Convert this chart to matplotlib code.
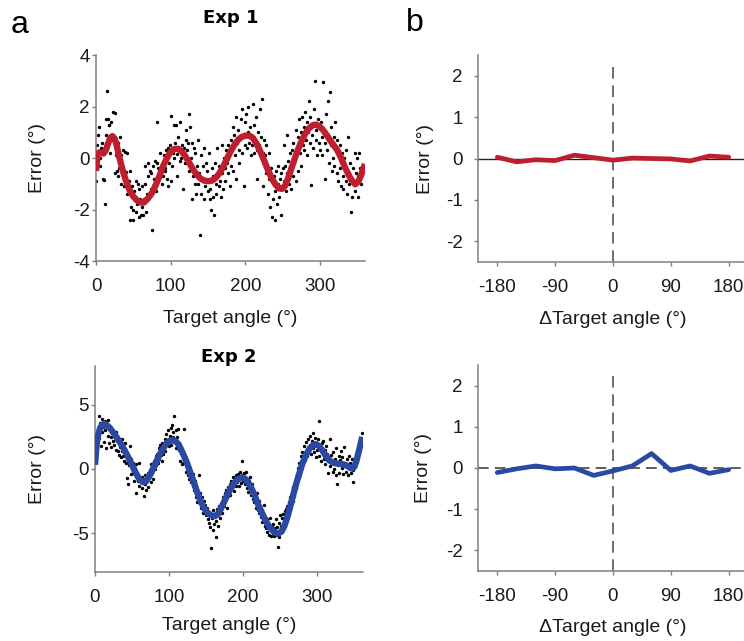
import matplotlib
matplotlib.use("Agg")
import matplotlib.pyplot as plt

plt.rcParams['font.family'] = ['Liberation Sans', 'DejaVu Sans']
plt.rcParams['axes.unicode_minus'] = False

# ---------------- Exp 1: single-trial errors and smoothed bias ----------------
exp1_angle = [
    0, 2, 3, 4, 5, 6, 7, 8, 9, 10, 11, 12, 13, 14, 15, 16, 17, 18, 19, 20, 21, 22, 23, 24, 25,
    26, 27, 28, 29, 30, 31, 32, 33, 34, 35, 36, 37, 38, 39, 40, 41, 42, 43, 44, 45, 46, 47, 48, 49, 50,
    51, 52, 53, 54, 55, 56, 57, 58, 59, 60, 61, 62, 63, 64, 65, 66, 67, 68, 69, 70, 71, 72, 73, 74, 75,
    76, 77, 78, 79, 80, 81, 82, 83, 84, 85, 86, 87, 88, 89, 90, 91, 92, 93, 94, 95, 96, 97, 98, 99, 100,
    101, 102, 103, 104, 105, 106, 107, 108, 109, 110, 111, 112, 113, 114, 115, 116, 117, 118, 119, 120, 121, 122, 123, 124, 125,
    126, 127, 128, 129, 130, 131, 132, 133, 134, 135, 136, 137, 138, 139, 140, 141, 142, 143, 144, 145, 146, 147, 148, 149, 150,
    151, 152, 153, 154, 155, 156, 157, 158, 159, 160, 161, 162, 163, 164, 165, 166, 167, 168, 169, 170, 171, 172, 173, 174, 175,
    176, 177, 178, 179, 180, 181, 182, 183, 184, 185, 186, 187, 188, 189, 190, 191, 192, 193, 194, 195, 196, 197, 198, 199, 200,
    201, 202, 203, 204, 205, 206, 207, 208, 209, 210, 211, 212, 213, 214, 215, 216, 217, 218, 219, 220, 221, 222, 223, 224, 225,
    226, 227, 228, 229, 230, 231, 232, 233, 234, 235, 236, 237, 238, 239, 240, 241, 242, 243, 244, 245, 246, 247, 248, 249, 250,
    251, 252, 253, 254, 255, 256, 257, 258, 259, 260, 261, 262, 263, 264, 265, 266, 267, 268, 269, 270, 271, 272, 273, 274, 275,
    276, 277, 278, 279, 280, 281, 282, 283, 284, 285, 286, 287, 288, 289, 290, 291, 292, 293, 294, 295, 296, 297, 298, 299, 300,
    301, 302, 303, 304, 305, 306, 307, 308, 309, 310, 311, 312, 313, 314, 315, 316, 317, 318, 319, 320, 321, 322, 323, 324, 325,
    326, 327, 328, 329, 330, 331, 332, 333, 334, 335, 336, 337, 338, 339, 340, 341, 342, 343, 344, 345, 346, 347, 348, 349, 350,
    351, 352, 353, 354, 355,
]
exp1_error = [
    -0.9, 0.5, 0.9, 1.2, 0.0, -0.3, 0.4, 0.6, 0.2, -0.8, -0.85, -1.8, 0.9, 1.5, 2.6, 1.5, 1.3, 1.3, 0.2, 1.4, 0.8, 0.9, 1.8, 0.7, -0.6,
    1.75, 0.1, -0.5, -0.7, 0.6, -0.4, 0.8, 0.1, -1.0, -0.6, 0.3, -0.8, -1.1, 0.25, -0.55, -1.4, 0.2, -1.0, -0.9, -2.4, -0.5, -1.9, -1.1, -2.0, -2.4,
    -1.3, -1.5, -2.1, -0.9, -1.8, -1.0, -2.3, -1.2, -1.6, -2.2, -1.9, -1.1, -2.2, -1.6, -0.3, -1.0, -2.1, -1.4, -0.7, -0.2, -1.5, -0.5, -1.2, -0.6, -2.8,
    -0.3, -1.0, -0.8, -0.1, -1.3, -0.2, 1.4, -0.4, -0.8, -0.5, 0.2, -0.3, -1.0, -0.2, -0.7, 0.1, -0.4, -0.5, 0.3, -0.8, -1.1, 0.4, -0.2, 0.5, -0.9,
    1.65, -0.3, 0.2, 1.3, 0.0, 0.6, 1.3, -0.7, 0.15, 0.8, 0.3, -0.1, 1.4, 0.0, 0.5, -1.2, 0.1, 0.4, -0.2, 0.7, 1.1, 0.3, 0.6, 1.7, -0.5,
    1.2, 0.0, 0.6, -1.6, -0.7, 0.4, -1.0, 0.2, -1.4, -0.3, 0.7, -1.0, -0.6, -3.0, -1.4, 0.1, -0.8, -0.3, -1.6, 0.4, -1.1, -0.2, -0.5, -0.9, -1.3,
    0.2, -1.6, -1.2, -2.0, -0.4, -0.7, -1.5, -2.2, -0.2, -1.0, -1.4, 0.4, -0.6, -1.1, -0.3, -0.9, -1.5, 0.5, -0.6, -1.2, 0.0, -0.4, -0.9, 0.3, -0.2,
    0.5, -0.6, 0.2, -1.1, 0.7, -0.3, 0.4, 1.2, -0.5, 0.9, 0.1, 1.6, -0.8, 0.6, 1.1, 0.3, -0.2, 0.8, 1.5, 1.9, 0.2, 0.9, -1.1, 0.5, 1.4,
    1.7, 0.4, 1.0, 2.0, 0.6, 1.2, 0.1, 0.9, 0.5, 2.1, 0.2, 1.3, 0.7, 1.6, -0.8, 0.3, 1.0, 0.5, 1.9, 0.4, 0.8, 2.3, 0.2, -1.1, 0.7,
    0.1, -0.6, 0.5, -0.3, -1.4, 0.2, -0.8, -1.9, -0.4, -0.9, -2.3, -1.6, -0.7, -2.4, -1.3, -0.5, -1.8, -1.0, -0.3, -1.5, -0.8, -2.2, -0.6, -1.1, -0.4,
    0.5, -0.9, -0.3, -1.3, 0.9, -0.6, -0.1, -1.0, 0.2, -0.4, -1.2, 0.3, -0.7, 0.6, -0.2, 0.0, -0.9, 1.1, 0.4, -0.5, 0.8, 1.5, 0.2, 1.0, -0.3,
    1.6, 0.5, 1.2, 0.3, 1.8, 0.7, 1.4, 0.1, 1.0, 2.2, 0.6, 1.6, -1.05, 0.9, 1.3, 0.4, 1.9, 3.0, 0.7, 1.1, 0.1, 1.5, 0.6, 1.2, 0.3,
    1.4, 0.8, 0.1, 2.95, 1.0, -0.8, 0.6, 1.7, 0.3, 2.2, 0.9, -0.2, 2.55, 0.5, 1.2, -0.5, 0.0, 0.8, -0.3, 1.4, 0.4, -0.6, 0.7, -0.9, 0.2,
    -0.4, 0.5, -1.1, 0.2, -0.7, -1.2, 0.0, -0.3, -0.9, 0.3, -1.4, 0.8, -0.6, -1.0, -0.2, -2.1, -0.8, -1.5, -0.4, -0.9, 0.2, -1.3, -0.6, 0.0, -1.5,
    -0.7, 0.2, -0.4, -1.0, -0.5,
]
exp1_fit_angle = [0, 2, 4, 7, 10, 13, 16, 19, 22, 25, 28, 31, 35, 40, 45, 50, 55, 60, 64, 68,
                  72, 76, 80, 85, 90, 95, 100, 105, 110, 115, 120, 125, 130, 135, 140, 145,
                  150, 155, 160, 165, 170, 175, 180, 185, 190, 195, 200, 205, 210, 215, 220,
                  225, 230, 235, 240, 245, 249, 253, 257, 261, 265, 270, 275, 280, 285, 290,
                  294, 298, 303, 308, 313, 318, 323, 328, 333, 338, 343, 347, 351, 355, 360]
exp1_fit_error = [-0.5, 0.1, 0.22, 0.2, 0.17, 0.3, 0.55, 0.78, 0.85, 0.75, 0.45, 0.05, -0.4,
                  -0.88, -1.25, -1.5, -1.65, -1.73, -1.73, -1.62, -1.48, -1.3, -1.05, -0.7,
                  -0.3, 0.0, 0.25, 0.35, 0.36, 0.25, 0.05, -0.2, -0.45, -0.65, -0.8, -0.88,
                  -0.9, -0.88, -0.78, -0.6, -0.35, -0.05, 0.25, 0.5, 0.7, 0.82, 0.87, 0.87,
                  0.78, 0.55, 0.25, -0.1, -0.45, -0.78, -1.02, -1.18, -1.2, -1.08, -0.8,
                  -0.45, -0.1, 0.3, 0.65, 0.95, 1.15, 1.27, 1.3, 1.25, 1.12, 0.92, 0.7, 0.5,
                  0.3, 0.0, -0.35, -0.65, -0.9, -1.02, -0.92, -0.65, -0.23]

# ---------------- Exp 2: single-trial errors and smoothed bias ----------------
exp2_angle = list(range(1, 351)) + [352, 354, 356, 358, 359, 360]
exp2_error = [
    0.9, 1.5, 2.6, 3.0, 4.1, 2.4, 3.6, 1.8, 3.9, 2.9, 3.3,
    2.1, 3.7, 3.0, 1.6, 3.5, 2.6, 3.8, 2.0, 3.1,
    2.5, 1.7, 3.0, 2.2, 2.8, 1.9, 2.5, 2.9, 1.5, 2.2,
    1.4, 2.0, 1.1, 1.7, 0.9, 1.4, 2.3, 1.0, 0.6, 1.5,
    2.0, 0.5, -0.7, 1.1, -1.2, 0.3, 1.8, -0.4, 0.8, 0.0,
    -0.3, 0.5, -0.9, -0.2, 0.4, -1.85, -0.6, -0.9, 0.5, -1.3,
    -0.7, -1.0, -0.6, -1.5, -0.8, -2.1, -1.2, -0.5, -1.6, -0.9,
    -0.3, -1.4, -0.6, -0.1, -1.0, 0.4, -0.3, 0.2, -0.8, 0.6,
    0.0, 1.0, 0.3, 1.2, 0.5, 1.6, 0.8, 1.9, 1.1, 0.6,
    2.0, 1.2, 1.7, 2.3, 1.4, 2.7, 1.9, 2.2, 3.0, 1.8,
    2.6, 3.2, 1.9, 3.4, 2.5, 2.9, 4.1, 2.2, 3.0, 1.6,
    2.5, 3.1, 1.5, 2.0, 0.6, 1.7, 0.4, 1.2, 0.5, 3.1,
    0.5, 0.9, -0.2, 0.6, -0.5, 0.4, -0.8, 0.1, -0.3, -1.0,
    -0.6, -1.3, -0.4, -1.6, -0.9, -2.2, -1.4, -2.6, -1.8, -0.5,
    -2.4, -1.9, -3.0, -2.2, -2.7, -3.4, -2.5, -3.2, -2.8, -3.6,
    -3.0, -3.9, -3.3, -4.2, -3.5, -4.5, -6.1, -3.8, -4.7, -3.2,
    -4.3, -3.6, -5.3, -4.0, -3.1, -4.4, -3.5, -2.9, -3.8, -3.2,
    -2.6, -3.4, -2.2, -2.9, -1.9, -2.5, -1.6, -3.0, -2.1, -1.4,
    -1.9, -1.2, -2.0, -0.9, -1.5, -0.6, -1.1, -1.7, -0.8, -1.3,
    -0.5, -1.0, -0.4, -1.3, -0.7, -0.2, -1.1, 0.6, -0.5, -0.9,
    -0.3, -1.2, -0.6, -0.2, -1.5, -0.8, -1.8, -0.9, -1.3, -0.6,
    -2.0, -1.2, -2.3, -1.7, -2.6, -2.0, -3.0, -2.4, -1.9, -3.2,
    -2.5, -3.4, -2.9, -3.7, -3.2, -4.1, -3.5, -2.8, -4.4, -3.7,
    -4.6, -3.9, -4.9, -4.2, -5.1, -4.5, -3.8, -5.2, -4.4, -5.0,
    -4.3, -5.2, -4.6, -3.9, -5.1, -4.5, -6.05, -4.2, -5.3, -3.6,
    -4.4, -3.8, -4.9, -3.5, -4.2, -3.3, -4.0, -3.1, -3.8, -2.9,
    -3.3, -2.6, -3.1, -2.2, -2.8, -1.9, -2.5, -1.4, -2.1, -1.2,
    -0.8, -1.5, -0.4, 0.1, -0.6, 0.5, 0.0, 1.0, 0.3, 1.3,
    0.9, 1.8, 1.2, 0.7, 2.1, 1.5, 1.0, 2.3, 1.4, 1.9,
    2.6, 1.2, 2.2, 1.6, 2.8, 1.3, 2.4, 0.9, 2.0, 1.5,
    2.3, 1.0, 3.7, 1.7, 0.6, 2.0, 1.3, 2.2, 0.8, 1.5,
    0.4, 1.8, 0.7, 1.2, -0.3, 0.9, 2.3, 0.2, 1.1, 0.5,
    -0.2, 1.3, 0.0, 0.8, -0.5, 1.6, -1.15, 0.3, 1.0, -0.3,
    0.7, 1.4, 0.1, 0.9, -0.4, 0.5, 1.7, 0.2, -0.2, 0.8,
    0.3, -0.5, 1.0, 0.0, 0.5, -0.3, 0.8, -0.1, -1.03, 0.2,
    0.6, 1.1, 1.5, 2.0, 1.8, 2.8,
]
exp2_fit_angle = [0, 2, 4, 7, 10, 13, 16, 20, 25, 30, 35, 40, 45, 50, 55, 60, 65, 69, 73, 77,
                  81, 86, 91, 96, 101, 105, 109, 113, 118, 123, 128, 133, 138, 143, 148, 153,
                  158, 162, 166, 170, 174, 178, 183, 188, 193, 198, 202, 206, 210, 215, 220,
                  225, 230, 235, 240, 245, 248, 252, 256, 260, 264, 268, 272, 276, 280, 285,
                  290, 295, 299, 303, 307, 312, 317, 322, 328, 334, 339, 343, 347, 350, 353,
                  356, 359, 361]
exp2_fit_error = [0.33, 1.8, 2.6, 3.2, 3.45, 3.5, 3.4, 3.2, 2.8, 2.4, 1.95, 1.45, 0.9, 0.33,
                  -0.3, -0.8, -1.03, -0.95, -0.6, -0.15, 0.35, 0.95, 1.5, 1.95, 2.2, 2.25, 2.15,
                  1.9, 1.3, 0.65, -0.15, -0.95, -1.8, -2.55, -3.1, -3.45, -3.63, -3.66, -3.5,
                  -3.1, -2.6, -2.1, -1.55, -1.1, -0.8, -0.68, -0.72, -0.95, -1.35, -1.95, -2.7,
                  -3.35, -3.95, -4.45, -4.8, -4.98, -5.0, -4.85, -4.4, -3.7, -2.85, -1.95, -1.1,
                  -0.35, 0.4, 1.1, 1.6, 1.88, 1.93, 1.75, 1.45, 1.0, 0.65, 0.48, 0.42, 0.38, 0.3,
                  0.15, 0.03, 0.15, 0.6, 1.3, 2.0, 2.5]

# ---------------- Serial dependence (error vs. previous-trial difference) ----------------
delta_angle = [-180, -150, -120, -90, -60, -30, 0, 30, 60, 90, 120, 150, 180]
exp1_serial = [0.03, -0.08, -0.03, -0.05, 0.08, 0.02, -0.04, 0.01, 0.0, -0.01, -0.06, 0.06, 0.03]
exp2_serial = [-0.11, -0.02, 0.05, -0.02, 0.0, -0.18, -0.07, 0.05, 0.35, -0.06, 0.05, -0.13, -0.04]

RED = '#BE1E2D'
BLUE = '#2A49A3'
SPINE = '#7f7f7f'

W, H = 744, 641
fig = plt.figure(figsize=(W / 100, H / 100), dpi=100)


def rect(left, top, right, bottom):
    return [left / W, 1 - bottom / H, (right - left) / W, (bottom - top) / H]


def style(ax, ypad, xpad):
    for s in ('top', 'right'):
        ax.spines[s].set_visible(False)
    for s in ('left', 'bottom'):
        ax.spines[s].set_color(SPINE)
        ax.spines[s].set_linewidth(1.1)
    ax.tick_params(axis='both', direction='out', length=3, width=1.0,
                   color=SPINE, labelsize=13.5, labelcolor='#1a1a1a')
    ax.tick_params(axis='y', pad=ypad)
    ax.tick_params(axis='x', pad=xpad)


label_kw = dict(fontsize=14, color='#1a1a1a')

# Panel a, Exp 1
ax1 = fig.add_axes(rect(96, 55, 365, 261))
ax1.scatter(exp1_angle, exp1_error, s=6, color='black', linewidths=0, zorder=2)
ax1.plot(exp1_fit_angle, exp1_fit_error, color=RED, lw=4.6, solid_capstyle='butt',
         solid_joinstyle='round', zorder=3)
ax1.set_xlim(0, 360)
ax1.set_ylim(-4, 4)
ax1.set_xticks([0, 100, 200, 300])
ax1.set_yticks([-4, -2, 0, 2, 4])
style(ax1, 1.5, 9)
ax1.set_xlabel('Target angle (°)', va='center', **label_kw)
ax1.set_ylabel('Error (°)', va='center', **label_kw)
ax1.xaxis.set_label_coords(0.5, -57 / 206)
ax1.yaxis.set_label_coords(-58 / 269, 0.5)

# Panel a, Exp 2
ax2 = fig.add_axes(rect(95, 366, 363, 572))
ax2.scatter(exp2_angle, exp2_error, s=6, color='black', linewidths=0, zorder=2)
ax2.plot(exp2_fit_angle, exp2_fit_error, color=BLUE, lw=4.6, solid_capstyle='butt',
         solid_joinstyle='round', zorder=3)
ax2.set_xlim(0, 362)
ax2.set_ylim(-8, 8)
ax2.set_xticks([0, 100, 200, 300])
ax2.set_yticks([-5, 0, 5])
style(ax2, 1.5, 9)
ax2.set_xlabel('Target angle (°)', va='center', **label_kw)
ax2.set_ylabel('Error (°)', va='center', **label_kw)
ax2.xaxis.set_label_coords(0.5, -53 / 206)
ax2.yaxis.set_label_coords(-58 / 268, 0.5)

# Panel b, Exp 1
ax3 = fig.add_axes(rect(478, 55, 748, 262))
ax3.axhline(0, color='#222222', lw=1.0, zorder=1)
ax3.plot([0, 0], [-2.5, 2.3], color='#555555', lw=1.2, dashes=(7, 4), zorder=1)
ax3.plot(delta_angle, exp1_serial, color=RED, lw=3.4, solid_capstyle='round',
         solid_joinstyle='round', zorder=3)
ax3.set_xlim(-210, 210)
ax3.set_ylim(-2.5, 2.5)
ax3.set_xticks([-180, -90, 0, 90, 180])
ax3.set_yticks([-2, -1, 0, 1, 2])
style(ax3, 8, 9)
ax3.set_xlabel('ΔTarget angle (°)', va='center', **label_kw)
ax3.set_ylabel('Error (°)', va='center', **label_kw)
ax3.xaxis.set_label_coords(0.5, -57 / 207)
ax3.yaxis.set_label_coords(-53 / 270, 0.5)

# Panel b, Exp 2
ax4 = fig.add_axes(rect(478, 365, 748, 571))
ax4.plot([-210, 210], [0, 0], color='#333333', lw=1.1, dashes=(7, 4), zorder=1)
ax4.plot([0, 0], [-2.5, 2.3], color='#555555', lw=1.2, dashes=(7, 4), zorder=1)
ax4.plot(delta_angle, exp2_serial, color=BLUE, lw=3.4, solid_capstyle='round',
         solid_joinstyle='round', zorder=3)
ax4.set_xlim(-210, 210)
ax4.set_ylim(-2.5, 2.5)
ax4.set_xticks([-180, -90, 0, 90, 180])
ax4.set_yticks([-2, -1, 0, 1, 2])
style(ax4, 8, 9)
ax4.set_xlabel('ΔTarget angle (°)', va='center', **label_kw)
ax4.set_ylabel('Error (°)', va='center', **label_kw)
ax4.xaxis.set_label_coords(0.5, -56 / 206)
ax4.yaxis.set_label_coords(-55 / 270, 0.5)

# Titles and panel letters
fig.text(231 / W, 1 - 18 / H, 'Exp 1', ha='center', va='center', fontsize=13,
         fontweight='bold', family='DejaVu Sans')
fig.text(229 / W, 1 - 357 / H, 'Exp 2', ha='center', va='center', fontsize=13,
         fontweight='bold', family='DejaVu Sans')
fig.text(20 / W, 1 - 25 / H, 'a', ha='center', va='center', fontsize=23)
fig.text(415 / W, 1 - 23 / H, 'b', ha='center', va='center', fontsize=23)

fig.savefig('out.png', dpi=100)
